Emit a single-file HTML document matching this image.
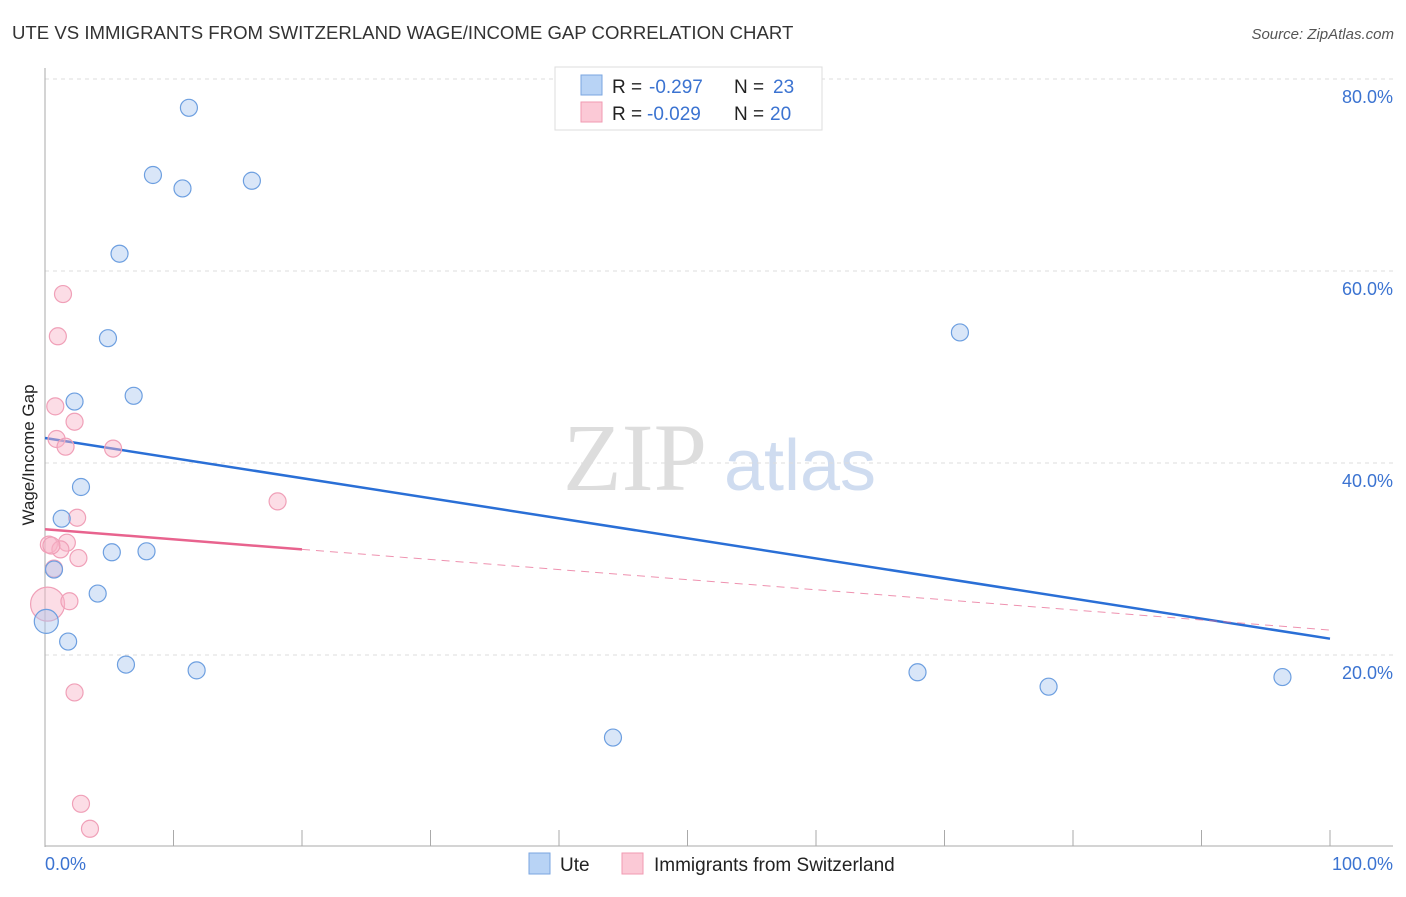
<!DOCTYPE html>
<html><head><meta charset="utf-8"><style>
body{margin:0;background:#fff;font-family:"Liberation Sans",sans-serif}
</style></head><body>
<svg id="c" width="1406" height="892" xmlns="http://www.w3.org/2000/svg" font-family="Liberation Sans, sans-serif">
<text x="12" y="39" font-size="18.6" fill="#333">UTE VS IMMIGRANTS FROM SWITZERLAND WAGE/INCOME GAP CORRELATION CHART</text>
<text x="1394" y="39" font-size="15" fill="#555" font-style="italic" text-anchor="end">Source: ZipAtlas.com</text>
<text x="635" y="490" font-size="96" fill="#ddd" font-family="Liberation Serif, serif" text-anchor="middle">ZIP</text>
<text x="800" y="490" font-size="72" fill="#cfdcf0" text-anchor="middle">atlas</text>
<g id="grid"></g><g id="axes"></g><g id="trend"></g><g id="pts"></g>
<text transform="translate(34,455) rotate(-90)" font-size="17" fill="#222" text-anchor="middle">Wage/Income Gap</text>
<g>
<rect x="555" y="67" width="267" height="63" fill="#fff" stroke="#ddd"/>
<rect x="581" y="75" width="21" height="20" fill="#b8d3f5" stroke="#7aa6e0"/>
<rect x="581" y="102" width="21" height="20" fill="#fbc9d6" stroke="#f09ab2"/>
<text x="612" y="93" font-size="19" fill="#222">R =</text>
<text x="649" y="93" font-size="19" fill="#3b73d1">-0.297</text>
<text x="734" y="93" font-size="19" fill="#222">N =</text>
<text x="773" y="93" font-size="19" fill="#3b73d1">23</text>
<text x="612" y="120" font-size="19" fill="#222">R =</text>
<text x="647" y="120" font-size="19" fill="#3b73d1">-0.029</text>
<text x="734" y="120" font-size="19" fill="#222">N =</text>
<text x="770" y="120" font-size="19" fill="#3b73d1">20</text>
</g>
<g>
<rect x="529" y="853" width="21" height="21" fill="#b8d3f5" stroke="#7aa6e0"/>
<text x="560" y="871" font-size="19" fill="#222">Ute</text>
<rect x="622" y="853" width="21" height="21" fill="#fbc9d6" stroke="#f09ab2"/>
<text x="654" y="871" font-size="19" fill="#222">Immigrants from Switzerland</text>
</g>
</svg>
<script>
const yTicks=[20,40,60,80];
const yTickLabels=["20.0%","40.0%","60.0%","80.0%"];
const xTicks=[0,10,20,30,40,50,60,70,80,90,100];
const uteX=[11.2,8.4,10.7,16.1,5.8,4.9,6.9,2.3,2.8,1.3,5.2,7.9,0.7,4.1,0.1,1.8,6.3,11.8,71.2,67.9,78.1,96.3,44.2];
const uteY=[77.0,70.0,68.6,69.4,61.8,53.0,47.0,46.4,37.5,34.2,30.7,30.8,28.9,26.4,23.5,21.4,19.0,18.4,53.6,18.2,16.7,17.7,11.4];
const swX=[1.4,1.0,0.8,2.3,0.9,1.6,5.3,18.1,2.5,1.7,0.3,1.2,2.6,0.2,1.9,0.7,2.3,2.8,3.5,0.5];
const swY=[57.6,53.2,45.9,44.3,42.5,41.7,41.5,36.0,34.3,31.7,31.5,31.0,30.1,25.3,25.6,29.0,16.1,4.5,1.9,31.4];
const uteTrend=[42.6,21.7];
const swTrend=[33.1,22.6];
const swSolidEnd=20;
const X=v=>45+v*12.85, Y=v=>847-v*9.6;
const NS="http://www.w3.org/2000/svg";
function mk(p,t,a){const e=document.createElementNS(NS,t);for(const k in a)e.setAttribute(k,a[k]);document.getElementById(p).appendChild(e);return e;}
yTicks.forEach((t,i)=>{
 const l=mk('grid','line',{x1:45,x2:1393,y1:Y(t),y2:Y(t),stroke:'#ddd','stroke-dasharray':'4,4'});
 
 
 const tx=mk('grid','text',{x:1393,y:Y(t)+24,'font-size':18,fill:'#3b73d1','text-anchor':'end'});
 tx.textContent=yTickLabels[i];
 
 
});
const ax=mk('axes','line',{x1:45,x2:45,y1:68,y2:847,stroke:'#aaa'});


const bx=mk('axes','line',{x1:45,x2:1393,y1:846,y2:846,stroke:'#aaa'});


xTicks.forEach(t=>{const l=mk('axes','line',{x1:X(t),x2:X(t),y1:830,y2:846,stroke:'#aaa'});
 
 });
const x0=mk('axes','text',{x:45,y:870,'font-size':18,fill:'#3b73d1'});x0.textContent="0.0%";


const x1=mk('axes','text',{x:1393,y:870,'font-size':18,fill:'#3b73d1','text-anchor':'end'});x1.textContent="100.0%";


const ut=mk('trend','line',{x1:X(0),y1:Y(uteTrend[0]),x2:X(100),y2:Y(uteTrend[1]),stroke:'#2a6fd6','stroke-width':2.5});


const swMid=swTrend[0]+(swTrend[1]-swTrend[0])*swSolidEnd/100;
const s1=mk('trend','line',{x1:X(0),y1:Y(swTrend[0]),x2:X(swSolidEnd),y2:Y(swMid),stroke:'#e8638e','stroke-width':2.5});


const s2=mk('trend','line',{x1:X(swSolidEnd),y1:Y(swMid),x2:X(100),y2:Y(swTrend[1]),stroke:'#e8638e','stroke-width':1,'stroke-dasharray':'8,6',opacity:0.7});


swX.forEach((v,i)=>{const c=mk('pts','circle',{cx:X(v),cy:Y(swY[i]),r:i==13?17:8.5,fill:'rgba(248,180,200,0.45)',stroke:'#f0a0b8','stroke-width':1.2});
 
 });
uteX.forEach((v,i)=>{const c=mk('pts','circle',{cx:X(v),cy:Y(uteY[i]),r:i==14?12:8.5,fill:'rgba(170,200,240,0.45)',stroke:'#6d9fe0','stroke-width':1.2});
 
 });
</script>
</body></html>
